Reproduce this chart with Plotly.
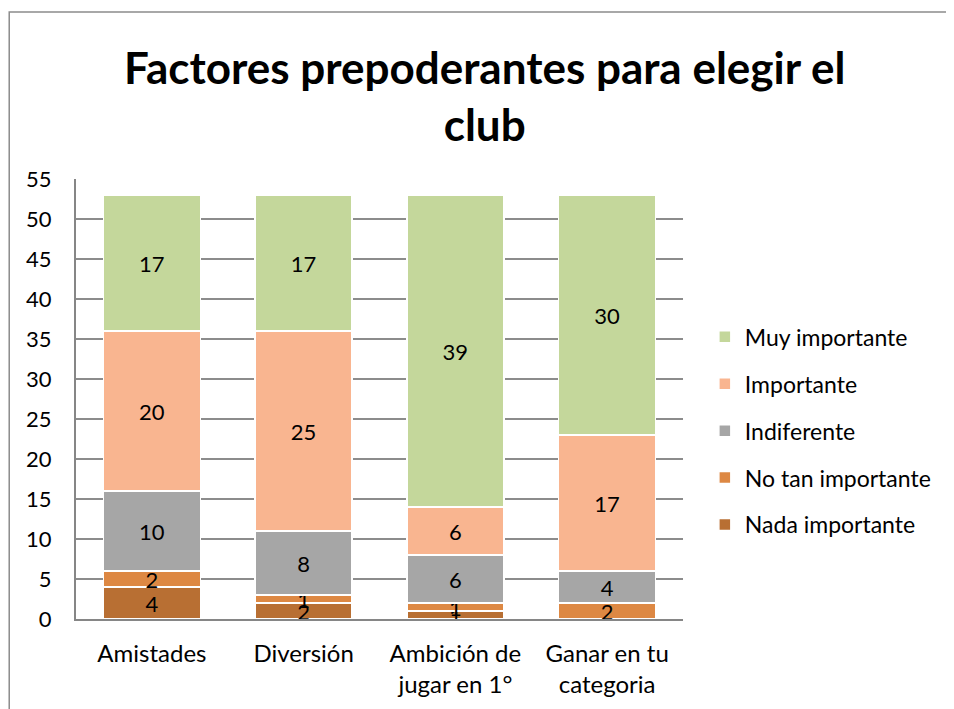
import plotly.graph_objects as go

categories = ["Amistades", "Diversión", "Ambición de<br>jugar en 1°", "Ganar en tu<br>categoria"]
series_names = ["Nada importante", "No tan importante", "Indiferente", "Importante", "Muy importante"]
nada = [4, 2, 1, 0]
no_tan = [2, 1, 1, 2]
indiferente = [10, 8, 6, 4]
importante = [20, 25, 6, 17]
muy = [17, 17, 39, 30]
y_ticks = list(range(0, 56, 5))

colors = ["#B86F33", "#DD8843", "#A6A6A6", "#F9B590", "#C4D79B"]
values = [nada, no_tan, indiferente, importante, muy]

FONT = "Lato"
fig = go.Figure()
for i, (name, vals, col) in enumerate(zip(series_names, values, colors)):
    fig.add_trace(go.Bar(
        x=categories, y=vals, name=name,
        marker=dict(color=col, line=dict(color="white", width=1.5)),
        text=[str(v) if v else "" for v in vals],
        textposition="inside", insidetextanchor="middle",
        constraintext="none", textangle=0,
        textfont=dict(family=FONT, size=22, color="black"),
        legendgroup=name, legendrank=len(series_names) - i, hoverinfo="skip",
    ))

fig.update_layout(
    barmode="stack", bargap=0.36,
    width=946, height=701,
    margin=dict(l=68, r=271, t=171, b=90),
    paper_bgcolor="white", plot_bgcolor="white",
    font=dict(family=FONT, size=22, color="black"),
    showlegend=True,
    legend=dict(x=1.036, xanchor="left", y=0.69, yanchor="top",
                traceorder="grouped", tracegroupgap=14,
                font=dict(family=FONT, size=23, color="black"),
                itemwidth=30),
    xaxis=dict(showline=True, linecolor="#868686", linewidth=2,
               ticks="", tickfont=dict(family=FONT, size=24), automargin=False,
               ticklabelstandoff=12),
    yaxis=dict(range=[0, 55], tickvals=y_ticks, showline=True,
               linecolor="#868686", linewidth=2,
               showgrid=True, gridcolor="#8C8C8C", gridwidth=1.5,
               ticks="", tickfont=dict(family=FONT, size=22),
               zeroline=False, automargin=False, ticklabelstandoff=18),
    annotations=[dict(text="<b>Factores prepoderantes para elegir el<br>club</b>",
                      xref="paper", yref="paper", x=0.673, y=1.189,
                      xanchor="center", yanchor="middle", showarrow=False,
                      font=dict(family=FONT, size=44, color="black"))],
    shapes=[dict(type="rect", xref="paper", yref="paper",
                 x0=-0.110, x1=1.6, y0=-0.3, y1=1.3795,
                 line=dict(color="#8C8C8C", width=1.5), layer="below")],
)
fig.write_html("out.html")
